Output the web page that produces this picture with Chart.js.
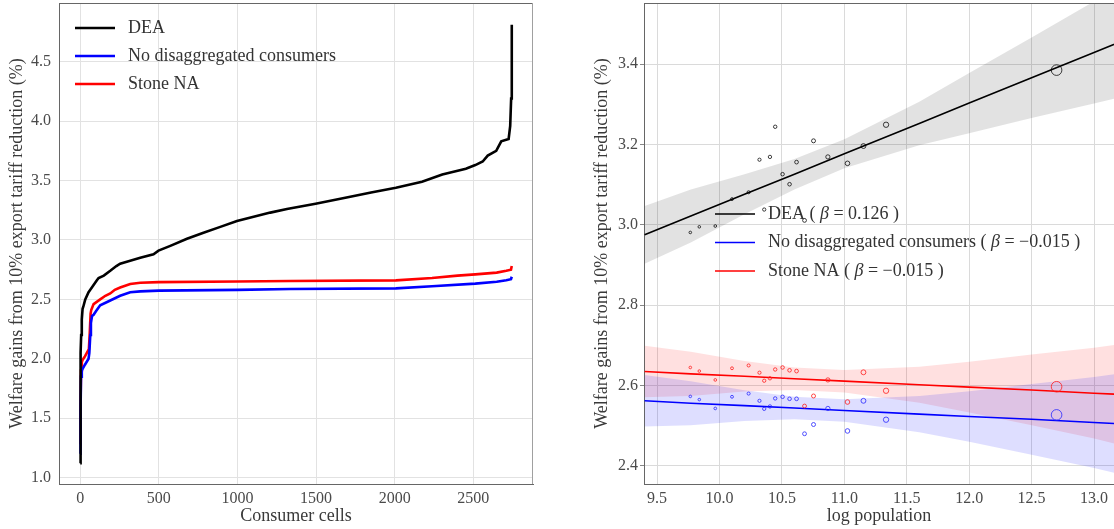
<!DOCTYPE html>
<html>
<head>
<meta charset="utf-8">
<script src="https://cdn.jsdelivr.net/npm/chart.js@4/dist/chart.umd.min.js"></script>
<style>
    html, body { margin: 0; padding: 0; background: #ffffff; }
    #wrap { position: relative; width: 1114px; height: 529px; overflow: hidden; }
    .panel { position: absolute; top: 0; height: 529px; }
    #left { left: 0; width: 545px; }
    #right { left: 555px; width: 559px; }
</style>
</head>
<body>
<div id="wrap">
    <div class="panel" id="left"><canvas id="curveChart" width="545" height="529"></canvas></div>
    <div class="panel" id="right"><canvas id="popChart" width="559" height="529"></canvas></div>
</div>
<script>
// left panel: sorted welfare gains across consumer cells
const deaCells = [0, 1, 2, 4, 6, 10, 15, 20, 32, 53, 64, 85, 106, 117, 150, 191, 230, 254, 307, 382, 466, 498, 573, 679, 784, 891, 997, 1103, 1209, 1315, 1497, 1702, 1850, 2008, 2174, 2303, 2453, 2513, 2560, 2592, 2646, 2678, 2725, 2735, 2741, 2745];
const deaGains = [1.12, 1.55, 1.85, 2.05, 2.2, 2.33, 2.42, 2.44, 2.5, 2.56, 2.58, 2.62, 2.66, 2.68, 2.7, 2.74, 2.78, 2.8, 2.82, 2.85, 2.88, 2.91, 2.95, 3.01, 3.06, 3.11, 3.16, 3.195, 3.23, 3.26, 3.305, 3.36, 3.4, 3.44, 3.49, 3.55, 3.6, 3.63, 3.66, 3.71, 3.75, 3.83, 3.85, 3.96, 4.19, 4.81];

const noDisCells = [0, 2, 5, 10, 15, 30, 53, 58, 64, 68, 75, 85, 100, 127, 191, 254, 318, 382, 500, 1000, 1336, 2008, 2238, 2513, 2649, 2710, 2740, 2745];
const noDisGains = [1.2, 1.55, 1.85, 1.9, 1.915, 1.95, 2.0, 2.05, 2.2, 2.3, 2.36, 2.37, 2.4, 2.45, 2.49, 2.53, 2.56, 2.567, 2.573, 2.58, 2.587, 2.592, 2.61, 2.632, 2.648, 2.66, 2.67, 2.69];

const stoneCells = [0, 2, 5, 10, 15, 30, 42, 55, 60, 66, 70, 85, 127, 160, 191, 220, 254, 318, 382, 500, 1000, 1336, 2008, 2238, 2400, 2513, 2649, 2710, 2740, 2745];
const stoneGains = [1.28, 1.6, 1.9, 1.97, 1.99, 2.02, 2.05, 2.08, 2.2, 2.38, 2.41, 2.46, 2.5, 2.53, 2.55, 2.58, 2.6, 2.63, 2.64, 2.645, 2.65, 2.655, 2.66, 2.68, 2.7, 2.71, 2.725, 2.74, 2.75, 2.78];

const cellTicks = [0, 500, 1000, 1500, 2000, 2500];
const gainTicks = [1.0, 1.5, 2.0, 2.5, 3.0, 3.5, 4.0, 4.5];

// right panel: city averages against log population
const logPop = [9.766, 9.838, 9.966, 10.10, 10.233, 10.32, 10.358, 10.404, 10.446, 10.505, 10.561, 10.617, 10.681, 10.753, 10.868, 11.025, 11.153, 11.334, 12.70];
const deaCity = [2.981, 2.995, 2.997, 3.064, 3.081, 3.162, 3.038, 3.169, 3.244, 3.126, 3.101, 3.156, 3.011, 3.209, 3.169, 3.153, 3.196, 3.249, 3.385];
const noDisCity = [2.573, 2.565, 2.543, 2.572, 2.580, 2.562, 2.542, 2.548, 2.568, 2.572, 2.567, 2.567, 2.480, 2.503, 2.543, 2.487, 2.562, 2.515, 2.527];
const stoneCity = [2.645, 2.636, 2.614, 2.643, 2.650, 2.632, 2.612, 2.618, 2.640, 2.645, 2.638, 2.636, 2.549, 2.574, 2.614, 2.559, 2.633, 2.587, 2.597];

// fitted lines and confidence bands, read at these x positions
const fitX = [9.4, 9.77, 10.2, 10.6, 11.0, 11.6, 12.0, 12.5, 13.0, 13.2];
const deaFit = [2.975, 3.022, 3.076, 3.126, 3.177, 3.252, 3.303, 3.366, 3.429, 3.454];
const deaHigh = [3.047, 3.088, 3.126, 3.164, 3.213, 3.306, 3.378, 3.466, 3.556, 3.591];
const deaLow = [2.903, 2.956, 3.026, 3.088, 3.141, 3.198, 3.228, 3.266, 3.302, 3.317];
const noDisFit = [2.562, 2.556, 2.550, 2.544, 2.538, 2.529, 2.523, 2.516, 2.508, 2.505];
const noDisHigh = [2.626, 2.611, 2.588, 2.572, 2.566, 2.574, 2.586, 2.604, 2.621, 2.630];
const noDisLow = [2.498, 2.501, 2.512, 2.516, 2.510, 2.484, 2.460, 2.428, 2.395, 2.380];
const stoneFit = [2.635, 2.629, 2.623, 2.617, 2.611, 2.602, 2.596, 2.589, 2.581, 2.578];
const stoneHigh = [2.699, 2.684, 2.661, 2.645, 2.639, 2.647, 2.659, 2.677, 2.694, 2.703];
const stoneLow = [2.571, 2.574, 2.585, 2.589, 2.583, 2.557, 2.533, 2.501, 2.468, 2.453];

const popTicks = [9.5, 10.0, 10.5, 11.0, 11.5, 12.0, 12.5, 13.0];
const cityTicks = [2.4, 2.6, 2.8, 3.0, 3.2, 3.4];

const seriesNames = ['DEA', 'No disaggregated consumers', 'Stone NA'];
const betas = [0.126, -0.015, -0.015];

const SERIF = '"Liberation Serif", "Times New Roman", serif';
const colors = {
    dea: '#000000',
    noDis: '#0000ff',
    stone: '#ff0000',
    tick: '#4a4a4a',
    title: '#3a3a3a',
    grid: '#e2e2e2',
    frame: '#666666'
};

const pairs = function (xs, ys) {
    return xs.map(function (x, i) { return { x: x, y: ys[i] }; });
};

const fmtBeta = function (b) {
    return (b < 0 ? '\u2212' : '') + Math.abs(b).toFixed(3);
};

const fixedTicks = function (values) {
    return function (s) {
        s.ticks = values.map(function (v) { return { value: v }; });
    };
};

// drop the label overhang padding so the plot box lands where we want it
const fitX45 = function (s) { s.height = 45; s.paddingLeft = 0; s.paddingRight = 0; };
const fitYWidth = function (w) {
    return function (s) { s.width = w; s.paddingTop = 0; s.paddingBottom = 0; };
};

// draws one legend row: line sample, then text pieces (some italic)
const drawEntry = function (ctx, x, y, color, width, parts) {
    ctx.strokeStyle = color;
    ctx.lineWidth = width;
    ctx.beginPath();
    ctx.moveTo(x, y);
    ctx.lineTo(x + 40, y);
    ctx.stroke();
    let tx = x + 53;
    ctx.fillStyle = '#333333';
    ctx.textBaseline = 'middle';
    ctx.textAlign = 'left';
    parts.forEach(function (p) {
        ctx.font = (p[1] ? 'italic ' : '') + '18px ' + SERIF;
        ctx.fillText(p[0], tx, y);
        tx += ctx.measureText(p[0]).width;
    });
};

const framePlugin = {
    id: 'frame',
    afterDraw: function (chart, args, opts) {
        const a = chart.chartArea;
        const ctx = chart.ctx;
        ctx.save();
        ctx.lineWidth = 1;
        ctx.strokeStyle = colors.frame;
        ctx.beginPath();
        ctx.moveTo(a.left, a.top + 0.5);
        ctx.lineTo(a.right, a.top + 0.5);
        ctx.stroke();
        if (opts.right) {
            ctx.strokeStyle = '#a0a0a0';
            ctx.beginPath();
            ctx.moveTo(a.right - 0.5, a.top);
            ctx.lineTo(a.right - 0.5, a.bottom);
            ctx.stroke();
        }
        ctx.restore();
    }
};

const legendPlugin = {
    id: 'innerLegend',
    afterDatasetsDraw: function (chart, args, opts) {
        const a = chart.chartArea;
        const ctx = chart.ctx;
        ctx.save();
        opts.rows.forEach(function (row, i) {
            drawEntry(ctx, a.left + opts.dx, a.top + opts.dy + i * opts.gap, row.color, opts.lineWidth, row.parts);
        });
        ctx.restore();
    }
};

const tickFont = { family: SERIF, size: 16 };
const titleFont = { family: SERIF, size: 18 };

// ---------- left: cumulative curves ----------
new Chart(document.getElementById('curveChart'), {
    type: 'scatter',
    data: {
        datasets: [
            { label: seriesNames[0], data: pairs(deaCells, deaGains), borderColor: colors.dea },
            { label: seriesNames[1], data: pairs(noDisCells, noDisGains), borderColor: colors.noDis },
            { label: seriesNames[2], data: pairs(stoneCells, stoneGains), borderColor: colors.stone }
        ].map(function (d) {
            return Object.assign(d, { showLine: true, pointRadius: 0, borderWidth: 2.6, tension: 0 });
        })
    },
    options: {
        responsive: false,
        animation: false,
        events: [],
        layout: { autoPadding: false, padding: { top: 3, right: 12, left: 0, bottom: 0 } },
        plugins: {
            legend: { display: false },
            tooltip: { enabled: false },
            frame: { right: true },
            innerLegend: {
                dx: 16, dy: 25, gap: 28, lineWidth: 2.6,
                rows: [
                    { color: colors.dea, parts: [[seriesNames[0], false]] },
                    { color: colors.noDis, parts: [[seriesNames[1], false]] },
                    { color: colors.stone, parts: [[seriesNames[2], false]] }
                ]
            }
        },
        scales: {
            x: {
                type: 'linear',
                min: -135,
                max: 2880,
                afterBuildTicks: fixedTicks(cellTicks),
                afterFit: fitX45,
                border: { display: true, color: colors.frame },
                grid: { color: colors.grid, drawTicks: false },
                ticks: {
                    color: colors.tick, font: tickFont, padding: 5, maxRotation: 0, autoSkip: false,
                    callback: function (v) { return String(v); }
                },
                title: { display: true, text: 'Consumer cells', color: colors.title, font: titleFont, padding: { top: 0, bottom: 2 } }
            },
            y: {
                min: 0.946,
                max: 4.994,
                afterBuildTicks: fixedTicks(gainTicks),
                afterFit: fitYWidth(59),
                border: { display: true, color: colors.frame },
                grid: { color: colors.grid, drawTicks: false },
                ticks: {
                    color: colors.tick, font: tickFont, padding: 8, autoSkip: false,
                    callback: function (v) { return v.toFixed(1); }
                },
                title: { display: true, text: 'Welfare gains from 10% export tariff reduction (%)', color: colors.title, font: titleFont, padding: { top: 6, bottom: 0 } }
            }
        }
    },
    plugins: [framePlugin, legendPlugin]
});

// ---------- right: city averages vs log population ----------
const bandSet = function (ys, color, fillTarget) {
    return {
        data: pairs(fitX, ys), showLine: true, pointRadius: 0, borderWidth: 0,
        borderColor: 'rgba(0,0,0,0)', backgroundColor: color, fill: fillTarget, order: 3
    };
};
const fitSet = function (ys, color) {
    return { data: pairs(fitX, ys), showLine: true, pointRadius: 0, borderWidth: 1.6, borderColor: color, fill: false, order: 2 };
};
const dotSet = function (ys, color) {
    return {
        data: pairs(logPop, ys), showLine: false, borderColor: color, backgroundColor: 'rgba(0,0,0,0)',
        pointBorderWidth: 1, order: 1,
        pointRadius: function (c) {
            const x = c.raw ? c.raw.x : 10;
            return Math.max(1.3, 5.3 * Math.exp((x - 12.7) / 2));
        }
    };
};

new Chart(document.getElementById('popChart'), {
    type: 'scatter',
    data: {
        datasets: [
            bandSet(deaHigh, 'rgba(0,0,0,0.115)', '+1'),
            bandSet(deaLow, 'rgba(0,0,0,0)', false),
            bandSet(noDisHigh, 'rgba(0,0,255,0.13)', '+1'),
            bandSet(noDisLow, 'rgba(0,0,0,0)', false),
            bandSet(stoneHigh, 'rgba(255,0,0,0.12)', '+1'),
            bandSet(stoneLow, 'rgba(0,0,0,0)', false),
            fitSet(deaFit, colors.dea),
            fitSet(noDisFit, colors.noDis),
            fitSet(stoneFit, colors.stone),
            dotSet(deaCity, 'rgba(0,0,0,0.75)'),
            dotSet(noDisCity, 'rgba(40,40,255,0.8)'),
            dotSet(stoneCity, 'rgba(255,30,30,0.8)')
        ]
    },
    options: {
        responsive: false,
        animation: false,
        events: [],
        layout: { autoPadding: false, padding: { top: 3, right: 0, left: 0, bottom: 0 } },
        plugins: {
            legend: { display: false },
            tooltip: { enabled: false },
            frame: { right: false },
            innerLegend: {
                dx: 71, dy: 211, gap: 28.5, lineWidth: 1.6,
                rows: [
                    { color: colors.dea, parts: [[seriesNames[0] + ' ( ', false], ['\u03b2', true], [' = ' + fmtBeta(betas[0]) + ' )', false]] },
                    { color: colors.noDis, parts: [[seriesNames[1] + ' ( ', false], ['\u03b2', true], [' = ' + fmtBeta(betas[1]) + ' )', false]] },
                    { color: colors.stone, parts: [[seriesNames[2] + ' ( ', false], ['\u03b2', true], [' = ' + fmtBeta(betas[2]) + ' )', false]] }
                ]
            }
        },
        scales: {
            x: {
                type: 'linear',
                min: 9.395,
                max: 13.16,
                afterBuildTicks: fixedTicks(popTicks),
                afterFit: fitX45,
                border: { display: true, color: colors.frame },
                grid: { color: '#dadada', drawTicks: false },
                ticks: {
                    color: colors.tick, font: tickFont, padding: 5, maxRotation: 0, autoSkip: false,
                    callback: function (v) { return v.toFixed(1); }
                },
                title: { display: true, text: 'log population', color: colors.title, font: titleFont, padding: { top: 0, bottom: 2 } }
            },
            y: {
                min: 2.355,
                max: 3.552,
                afterBuildTicks: fixedTicks(cityTicks),
                afterFit: fitYWidth(89),
                border: { display: true, color: colors.frame },
                grid: { color: '#dadada', tickLength: 4, tickColor: '#888888' },
                ticks: {
                    color: colors.tick, font: tickFont, padding: 2, autoSkip: false,
                    callback: function (v) { return v.toFixed(1); }
                },
                title: { display: true, text: 'Welfare gains from 10% export tariff reduction (%)', color: colors.title, font: titleFont, padding: { top: 36, bottom: 0 } }
            }
        }
    },
    plugins: [framePlugin, legendPlugin]
});
</script>
</body>
</html>
